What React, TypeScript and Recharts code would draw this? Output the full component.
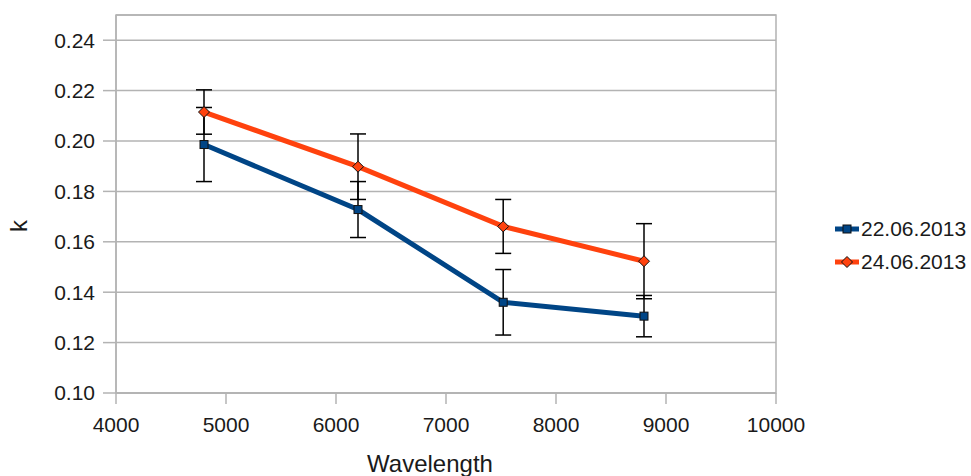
import React from 'react';
import { LineChart, Line, XAxis, YAxis, CartesianGrid, ErrorBar, Legend, ReferenceArea } from 'recharts';

// wavelength (x) and extinction coefficient k for the two nights, with error
const wavelengths = [4800, 6200, 7520, 8800];
const k22 = [0.1986, 0.1728, 0.136, 0.1305];
const err22 = [0.0147, 0.0111, 0.013, 0.0082];
const k24 = [0.2115, 0.1898, 0.1661, 0.1523];
const err24 = [0.0088, 0.013, 0.0107, 0.0149];

const xTicks = [4000, 5000, 6000, 7000, 8000, 9000, 10000];
const yTicks = [0.1, 0.12, 0.14, 0.16, 0.18, 0.2, 0.22, 0.24];

const series = [
  { key: 'k22', err: 'e22', name: '22.06.2013', color: '#004586', marker: 'square' },
  { key: 'k24', err: 'e24', name: '24.06.2013', color: '#ff420e', marker: 'diamond' },
];

const data = wavelengths.map((w, i) => ({
  w,
  k22: k22[i],
  e22: err22[i],
  k24: k24[i],
  e24: err24[i],
}));

const FONT = '"Liberation Sans", Arial, sans-serif';
const TEXT = '#1a1a1a';
const GRID = '#b3b3b3';

const SquareDot = (props: any) => {
  const { cx, cy, fill } = props;
  if (cx == null || cy == null) return null;
  return <rect x={cx - 4} y={cy - 4} width={8} height={8} fill={fill} stroke="#111" strokeWidth={1} />;
};

const DiamondDot = (props: any) => {
  const { cx, cy, fill } = props;
  if (cx == null || cy == null) return null;
  const r = 5.5;
  return (
    <path
      d={`M${cx},${cy - r}L${cx + r},${cy}L${cx},${cy + r}L${cx - r},${cy}Z`}
      fill={fill}
      stroke="#111"
      strokeWidth={1}
    />
  );
};

const LegendContent = () => (
  <div style={{ fontFamily: FONT, fontSize: 21, color: TEXT, lineHeight: 1 }}>
    {series.map((s) => (
      <div key={s.key} style={{ display: 'flex', alignItems: 'center', height: 33 }}>
        <svg width={26} height={14}>
          <line x1={0} y1={7} x2={24} y2={7} stroke={s.color} strokeWidth={5} />
          {s.marker === 'square' ? (
            <SquareDot cx={12} cy={7} fill={s.color} />
          ) : (
            <DiamondDot cx={12} cy={7} fill={s.color} />
          )}
        </svg>
        <span>{s.name}</span>
      </div>
    ))}
  </div>
);

export default function App() {
  return (
    <div style={{ position: 'absolute', left: 0, top: 0, background: '#fff' }}>
      <LineChart
        width={971}
        height={476}
        data={data}
        margin={{ top: 15, right: 195, bottom: 0, left: 0 }}
        style={{ fontFamily: FONT }}
      >
        <CartesianGrid vertical={false} stroke={GRID} strokeWidth={1.5} />
        <ReferenceArea x1={4000} x2={10000} y1={0.1} y2={0.25} fill="none" stroke={GRID} strokeWidth={1.5} />
        <XAxis
          dataKey="w"
          type="number"
          domain={[4000, 10000]}
          ticks={xTicks}
          height={83}
          stroke={GRID}
          strokeWidth={1.5}
          tickSize={11}
          tickMargin={13}
          tick={{ fill: TEXT, fontSize: 21 }}
          label={{ value: 'Wavelength', position: 'insideBottom', offset: 4, dx: -16, fill: TEXT, fontSize: 24 }}
        />
        <YAxis
          type="number"
          domain={[0.1, 0.25]}
          ticks={yTicks}
          allowDataOverflow
          width={116}
          stroke={GRID}
          strokeWidth={1.5}
          tickSize={13}
          tickMargin={8}
          tickFormatter={(v: number) => v.toFixed(2)}
          tick={{ fill: TEXT, fontSize: 21 }}
          label={{ value: 'k', angle: -90, position: 'center', dx: -40, dy: 22, fill: TEXT, fontSize: 24 }}
        />
        <Legend
          layout="horizontal"
          verticalAlign="middle"
          align="center"
          content={<LegendContent />}
          wrapperStyle={{ left: 835, top: 212, width: 136 }}
        />
        {series.map((s) => (
          <Line
            key={s.key}
            dataKey={s.key}
            name={s.name}
            type="linear"
            stroke={s.color}
            strokeWidth={5}
            fill={s.color}
            dot={s.marker === 'square' ? <SquareDot fill={s.color} /> : <DiamondDot fill={s.color} />}
            activeDot={false}
            isAnimationActive={false}
          >
            <ErrorBar dataKey={s.err} direction="y" width={8} stroke="#000" strokeWidth={1.5} isAnimationActive={false} />
          </Line>
        ))}
      </LineChart>
    </div>
  );
}
